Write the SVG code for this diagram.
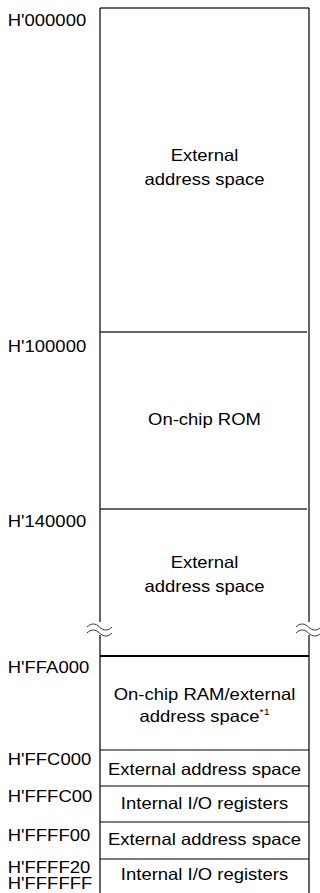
<svg xmlns="http://www.w3.org/2000/svg" width="320" height="893" viewBox="0 0 320 893">
<style>
text{font-family:"Liberation Sans",Arial,sans-serif;font-size:16.5px;fill:#000}
.c{text-anchor:middle}
.l{stroke:#000;stroke-width:1.2;fill:none}
.g{stroke:#333;stroke-width:1.5;fill:none}
.w{stroke:#333;stroke-width:1;fill:none}
</style>
<rect width="320" height="893" fill="#fff"/>
<g id="frame">
<path class="g" d="M100,8H309"/>
<path class="l" d="M100,8V622M100,635V893"/>
<path class="l" d="M309,8V622M309,635V893"/>
</g>
<g id="breaks">
<path class="w" d="M87,627c4,-4 8.5,-4 12.5,0s8.5,4 12.5,0M87,633c4,-4 8.5,-4 12.5,0s8.5,4 12.5,0"/>
<path class="w" d="M296,627c4,-4 8.5,-4 12.5,0s8.5,4 12.5,0M296,633c4,-4 8.5,-4 12.5,0s8.5,4 12.5,0"/>
</g>
<g id="dividers">
<path class="g" d="M100,332H307"/>
<path class="g" d="M100,509H307"/>
<path class="l" style="stroke-width:2" d="M100,656H309"/>
<path class="l" d="M100,750H309"/>
<path class="l" d="M100,786H309"/>
<path class="l" d="M100,822H309"/>
<path class="l" d="M100,859H309"/>
</g>
<g transform="scale(1.12,1)">
<g id="addresses">
<text x="6.9" y="26">H'000000</text>
<text x="6.9" y="352">H'100000</text>
<text x="6.9" y="527">H'140000</text>
<text x="6.9" y="673">H'FFA000</text>
<text x="6.9" y="765">H'FFC000</text>
<text x="6.9" y="802">H'FFFC00</text>
<text x="6.9" y="841">H'FFFF00</text>
<text x="6.9" y="873">H'FFFF20</text>
<text x="6.9" y="889">H'FFFFFF</text>
</g>
<g id="n1"><text class="c" x="182.6" y="161">External</text><text class="c" x="182.6" y="185">address space</text></g>
<g id="n2"><text class="c" x="182.6" y="425">On-chip ROM</text></g>
<g id="n3"><text class="c" x="182.6" y="568">External</text><text class="c" x="182.6" y="592">address space</text></g>
<g id="n4"><text class="c" x="182.6" y="700">On-chip RAM/external</text><text class="c" x="182.6" y="722">address space<tspan font-size="9.5" dy="-7">*1</tspan></text></g>
<g id="n5"><text class="c" x="182.6" y="775">External address space</text></g>
<g id="n6"><text class="c" x="182.6" y="809">Internal I/O registers</text></g>
<g id="n7"><text class="c" x="182.6" y="845">External address space</text></g>
<g id="n8"><text class="c" x="182.6" y="880">Internal I/O registers</text></g>
</g>
</svg>
